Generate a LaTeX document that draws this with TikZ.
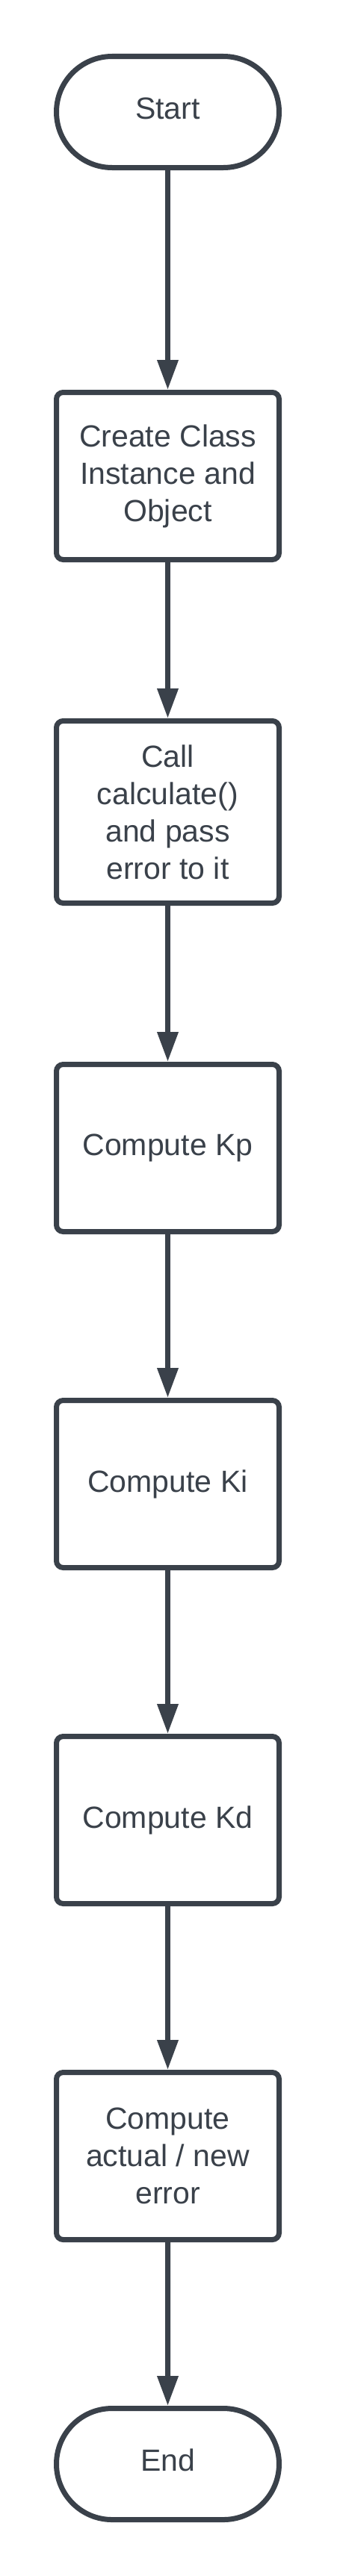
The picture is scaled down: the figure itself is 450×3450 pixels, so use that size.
\documentclass[tikz,border=0pt]{standalone}
\usepackage{fontspec}
\setmainfont{Liberation Sans}
\usepackage{tikz}
\usetikzlibrary{arrows.meta}
\usetikzlibrary{shapes.misc}
\definecolor{slate}{RGB}{58,65,74}
\tikzset{
  termnode/.style={shape=rounded rectangle, draw=slate, line width=7pt, fill=white, text=slate,
    minimum width=298pt, minimum height=149pt, inner sep=0pt, text depth=10pt, font=\fontsize{41}{50}\selectfont},
  procnode/.style={shape=rectangle, rounded corners=9pt, draw=slate, line width=7pt, fill=white, text=slate,
    minimum width=298pt, minimum height=224pt, inner sep=0pt, align=center, font=\fontsize{41}{50}\selectfont},
  flowarrow/.style={draw=slate, line width=7pt, -{Triangle[length=40pt, width=27pt]}}
}
\begin{document}
\begin{tikzpicture}[x=1pt, y=1pt]
        \useasboundingbox (0,0) rectangle (450,-3450);
        \node[termnode] (start) at (224.5,-150) {Start};
        \node[procnode] (create) at (224.5,-637.5) {Create Class\\Instance and\\Object};
        \node[procnode, minimum height=244pt] (call) at (224.5,-1087.5) {Call\\calculate()\\and pass\\error to it};
        \node[procnode] (kp) at (224.5,-1537.5) {Compute Kp};
        \node[procnode] (ki) at (224.5,-1987.5) {Compute Ki};
        \node[procnode] (kd) at (224.5,-2437.5) {Compute Kd};
        \node[procnode] (newerr) at (224.5,-2887.5) {Compute\\actual / new\\error};
        \node[termnode] (end) at (224.5,-3300) {End};
        \draw[flowarrow] (start) -- (create);
        \draw[flowarrow] (create) -- (call);
        \draw[flowarrow] (call) -- (kp);
        \draw[flowarrow] (kp) -- (ki);
        \draw[flowarrow] (ki) -- (kd);
        \draw[flowarrow] (kd) -- (newerr);
        \draw[flowarrow] (newerr) -- (end);
    \end{tikzpicture}
\end{document}
